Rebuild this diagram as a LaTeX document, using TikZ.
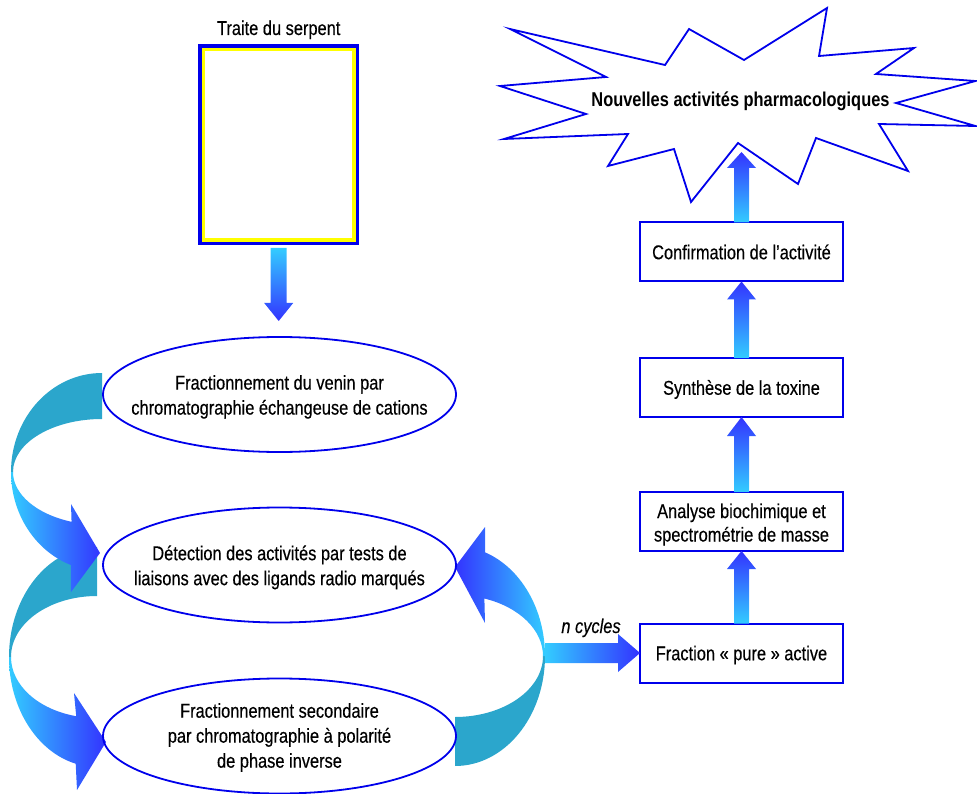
\documentclass[tikz,border=0pt]{standalone}
\usepackage{fontspec}
\setmainfont{Liberation Sans}[FakeStretch=0.82,
  UprightFeatures={FakeBold=0.35}, ItalicFeatures={FakeBold=0.35}]
\usetikzlibrary{calc,shapes.geometric}

\definecolor{lineblue}{RGB}{0,0,235}
\definecolor{acyan}{RGB}{51,204,255}
\definecolor{ablue}{RGB}{51,51,255}
\definecolor{backteal}{RGB}{43,166,204}
\definecolor{frameyellow}{RGB}{255,255,0}

% Straight block arrow with a shaded body:
% #1 shading, #2 tail, #3 tip, #4 half shaft width, #5 half head width, #6 head length
\newcommand\blockarrow[6]{%
  \coordinate (ba-h) at ($(#3)!#6!(#2)$);
  \shade[#1] ($(#2)!#4!90:(#3)$) -- ($(ba-h)!#4!90:(#3)$) -- ($(ba-h)!#5!90:(#3)$)
    -- (#3) -- ($(ba-h)!#5!-90:(#3)$) -- ($(ba-h)!#4!-90:(#3)$)
    -- ($(#2)!#4!-90:(#3)$) -- cycle;}

\begin{document}
\begin{tikzpicture}[x=1pt,y=-1pt,
  txt/.style={inner sep=0pt, outer sep=0pt, align=center,
              font=\fontsize{20pt}{25pt}\selectfont},
  boxtxt/.style={txt, font=\fontsize{20pt}{23.5pt}\selectfont},
  oneline/.style={text height=14.5pt, text depth=0pt},
  rbox/.style={draw=lineblue, line width=2pt, fill=white, minimum width=203pt,
               minimum height=59pt, outer sep=0pt, inner sep=0pt},
  ell/.style={ellipse, draw=lineblue, line width=1.8pt, minimum width=353pt,
              minimum height=115pt, outer sep=0pt, inner sep=0pt},
  upshade/.style={bottom color=acyan, top color=ablue},
  downshade/.style={top color=acyan, bottom color=ablue},
  rightshade/.style={left color=acyan, right color=ablue},
  leftshade/.style={left color=ablue, right color=acyan},
  loopback/.style={fill=backteal}]
\useasboundingbox (0,0) rectangle (977,794);

% ---- left loop, lower turn ----
\coordinate (c2) at (97,657);
\fill[loopback] (c2) ++(90:88pt and 110pt)
  arc[start angle=90, end angle=180, x radius=88pt, y radius=110pt]
  -- ($(c2)+(180:86pt and 61pt)$)
  arc[start angle=180, end angle=90, x radius=86pt, y radius=61pt] -- cycle;
\shade[rightshade] (c2) ++(180:88pt and 110pt)
  arc[start angle=180, end angle=256, x radius=88pt, y radius=110pt]
  -- (77,790) -- (106,742) -- (74,693)
  -- ($(c2)+(256:86pt and 61pt)$)
  arc[start angle=256, end angle=180, x radius=86pt, y radius=61pt] -- cycle;

% ---- left loop, upper turn ----
\coordinate (c1) at (102,472);
\fill[loopback] (c1) ++(90:91pt and 99pt)
  arc[start angle=90, end angle=180, x radius=91pt, y radius=99pt]
  -- ($(c1)+(180:89pt and 53pt)$)
  arc[start angle=180, end angle=90, x radius=89pt, y radius=53pt] -- cycle;
\shade[rightshade] (c1) ++(180:91pt and 99pt)
  arc[start angle=180, end angle=250, x radius=91pt, y radius=99pt]
  -- (71,592) -- (100,553) -- (71,504)
  -- ($(c1)+(250:89pt and 53pt)$)
  arc[start angle=250, end angle=180, x radius=89pt, y radius=53pt] -- cycle;

% ---- right loop ----
\coordinate (c3) at (455,656);
\fill[loopback] (c3) ++(270:90pt and 110pt)
  arc[start angle=270, end angle=360, x radius=90pt, y radius=110pt]
  -- ($(c3)+(0:88pt and 61pt)$)
  arc[start angle=360, end angle=270, x radius=88pt, y radius=61pt] -- cycle;
\shade[leftshade] (c3) ++(0:90pt and 110pt)
  arc[start angle=0, end angle=70.5, x radius=90pt, y radius=110pt]
  -- (485,527) -- (455,567) -- (485,623)
  -- ($(c3)+(70.5:88pt and 61pt)$)
  arc[start angle=70.5, end angle=0, x radius=88pt, y radius=61pt] -- cycle;
\coordinate (rloop) at ($(c3)+(0:90pt and 110pt)$);

% ---- venom source ----
\node[txt, anchor=base] (traitelbl) at (278.7,35) {Traite du serpent};
\node[draw=lineblue, line width=3.3pt, minimum width=157.4pt, minimum height=197.4pt,
      outer sep=0pt, inner sep=0pt] (traite) at (278.7,144.7) {};
\draw[frameyellow, line width=3.3pt]
  ($(traite.south west)+(3.3,-3.3)$) rectangle ($(traite.north east)+(-3.3,3.3)$);

% ---- fractionation steps ----
\node[ell] (e1) at (279.5,394.5) {};
\node[ell] (e2) at (279.5,565) {};
\node[ell] (e3) at (279.5,736) {};
\node[txt, yshift=-2.4pt] (t1) at (e1)
  {Fractionnement du venin par\\chromatographie échangeuse de cations};
\node[txt, yshift=-2.4pt] (t2) at (e2)
  {Détection des activités par tests de\\liaisons avec des ligands radio marqués};
\node[txt, yshift=-1.5pt] (t3) at (e3)
  {Fractionnement secondaire\\par chromatographie à polarité\\de phase inverse};

\coordinate (dtail) at ($(traite.south)+(0,4.6)$);
\coordinate (dtip) at ($(traite.south |- e1.north)+(0,-16)$);
\blockarrow{downshade}{dtail}{dtip}{8pt}{14.5pt}{18pt}

% ---- characterisation column ----
\node[rbox, boxtxt, oneline] (conf) at (741.5,252) {Confirmation de l’activité};
\node[rbox, boxtxt, oneline] (syn) at (741.5,387.5) {Synthèse de la toxine};
\node[rbox] (ana) at (741.5,521.5) {};
\node[boxtxt, yshift=-3.1pt] (anatxt) at (ana)
  {Analyse biochimique et\\spectrométrie de masse};
\node[rbox, boxtxt, oneline] (frac) at (741.5,653) {Fraction « pure » active};

\blockarrow{upshade}{frac.north}{ana.south}{7.5pt}{14.5pt}{18pt}
\blockarrow{upshade}{ana.north}{syn.south}{7.5pt}{14.5pt}{19pt}
\blockarrow{upshade}{syn.north}{conf.south}{7.5pt}{14.5pt}{18pt}

% ---- loop exit ----
\coordinate (ntail) at (rloop |- frac.west);
\blockarrow{rightshade}{ntail}{frac.west}{10pt}{19pt}{22pt}
\node[txt, anchor=base, font=\fontsize{20pt}{25pt}\selectfont\itshape] (ncyc)
  at (591,633) {n cycles};

% ---- outcome burst ----
\draw[lineblue, line width=1.8pt, fill=white]
  (510,29) -- (665,65) -- (689,29) -- (744,60) -- (827,8) -- (819,56)
  -- (914,48) -- (876,74) -- (975.5,81) -- (896,103) -- (975.5,126) -- (879,124)
  -- (908,171) -- (816,138) -- (798,184) -- (738,143) -- (691,202) -- (674,149)
  -- (608,166) -- (628,134) -- (504,139) -- (586,114) -- (500,86) -- (606,77)
  -- cycle;
\node[txt, anchor=base, font=\fontsize{20pt}{25pt}\selectfont\bfseries] (burst)
  at (740.5,107) {Nouvelles activités pharmacologiques};
\coordinate (bursttip) at (741.5,152);
\blockarrow{upshade}{conf.north}{bursttip}{7.5pt}{14.5pt}{16pt}
\end{tikzpicture}
\end{document}
